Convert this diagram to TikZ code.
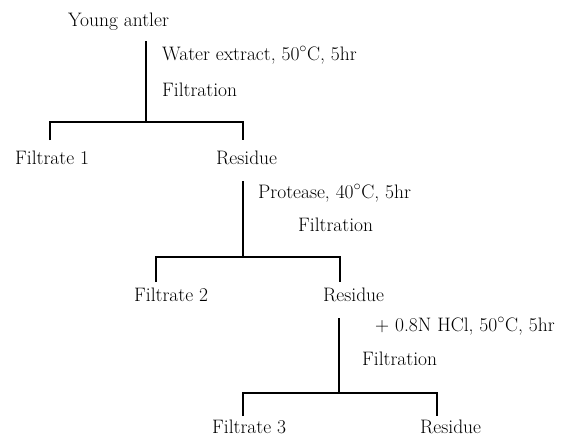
\documentclass[tikz,border=0pt]{standalone}
\begin{document}
\begin{tikzpicture}[x=1pt,y=-1pt,
  lbl/.style={anchor=base west,inner sep=0pt,font=\fontsize{19.5}{23}\selectfont},
  ln/.style={line width=1.2pt,draw=black}]
\useasboundingbox (0,0) rectangle (581,439);
% texts
\node[lbl] (young) at (68,27) {Young antler};
\node[lbl] (s1a) at (162,60) {Water extract, 50$^{\circ}$C, 5hr};
\node[lbl] (s1b) at (162,96) {Filtration};
\node[lbl] (f1) at (15,164) {Filtrate 1};
\node[lbl] (r1) at (216,164) {Residue};
\node[lbl] (s2a) at (258,198) {Protease, 40$^{\circ}$C, 5hr};
\node[lbl] (s2b) at (298,231) {Filtration};
\node[lbl] (f2) at (134,301) {Filtrate 2};
\node[lbl] (r2) at (323,301) {Residue};
\node[lbl] (s3a) at (375,331) {+ 0.8N HCl, 50$^{\circ}$C, 5hr};
\node[lbl] (s3b) at (362,365) {Filtration};
\node[lbl] (f3) at (212,433) {Filtrate 3};
\node[lbl] (r3) at (420,433) {Residue};
% junction coordinates
\coordinate (a0) at (146,41);
\coordinate (a1) at (146,122);
\coordinate (aL) at (50,122);
\coordinate (aR) at (243,122);
\coordinate (aLd) at (50,140);
\coordinate (aRd) at (243,140);
\coordinate (b0) at (243,181);
\coordinate (b1) at (243,257);
\coordinate (bL) at (156,257);
\coordinate (bR) at (340,257);
\coordinate (bLd) at (156,282);
\coordinate (bRd) at (340,282);
\coordinate (c0) at (339,318);
\coordinate (c1) at (339,393);
\coordinate (cL) at (243,393);
\coordinate (cR) at (437,393);
\coordinate (cLd) at (243,416);
\coordinate (cRd) at (437,416);
% connectors
\draw[ln] (a0) -- (a1);
\draw[ln] (aLd) -- (aL) -- (aR) -- (aRd);
\draw[ln] (b0) -- (b1);
\draw[ln] (bLd) -- (bL) -- (bR) -- (bRd);
\draw[ln] (c0) -- (c1);
\draw[ln] (cLd) -- (cL) -- (cR) -- (cRd);
\end{tikzpicture}
\end{document}
